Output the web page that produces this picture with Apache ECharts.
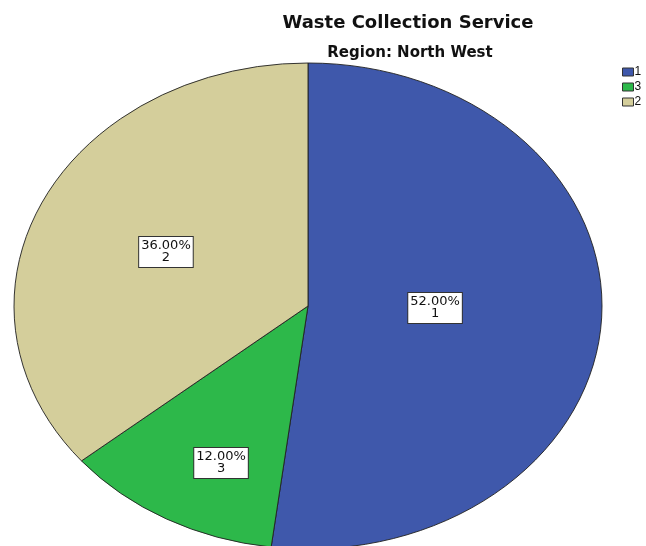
<!DOCTYPE html>
<html>
<head>
<meta charset="utf-8">
<script src="https://cdn.jsdelivr.net/npm/echarts@6/dist/echarts.min.js"></script>
<style>html,body{margin:0;padding:0;background:#fff}#c{width:646px;height:546px}</style>
</head>
<body>
<div id="c"></div>
<script>
var categories = ['1', '3', '2'];
var percentages = [52, 12, 36];
var sliceColors = ['#3f58ab', '#2db84a', '#d4ce9b'];
var titleText = 'Waste Collection Service';
var subtitleText = 'Region: North West';

// layout (pixels / fractions of the radii)
var CX = 308, CY = 306, RX = 294, RY = 243;
var labelRadiusX = [0.433, 0.614, 0.534];
var labelRadiusY = [0.13, 0.737, 0.522];

var total = percentages.reduce(function (a, b) { return a + b; }, 0);

function makeSeries(idx) {
  return {
    type: 'custom',
    name: categories[idx],
    coordinateSystem: 'none',
    itemStyle: { color: sliceColors[idx] },
    data: [percentages[idx]],
    renderItem: function (params, api) {
      var before = 0;
      for (var k = 0; k < idx; k++) before += percentages[k];
      var v = api.value(0);
      var start = -Math.PI / 2 + before / total * Math.PI * 2;
      var end = start + v / total * Math.PI * 2;
      var mid = (start + end) / 2;
      var lx = CX + Math.cos(mid) * RX * labelRadiusX[idx];
      var ly = CY + Math.sin(mid) * RY * labelRadiusY[idx];
      return {
        type: 'group',
        children: [
          {
            type: 'group',
            x: CX, y: CY,
            scaleY: RY / RX,
            children: [{
              type: 'sector',
              shape: { cx: 0, cy: 0, r0: 0, r: RX, startAngle: start, endAngle: end, clockwise: true },
              style: { fill: sliceColors[idx], stroke: '#222', lineWidth: 1, strokeNoScale: true }
            }]
          },
          {
            type: 'text',
            x: lx, y: ly,
            style: {
              text: (v / total * 100).toFixed(2) + '%\n' + categories[idx],
              fill: '#111',
              font: '13px "DejaVu Sans"',
              lineHeight: 12,
              align: 'center',
              verticalAlign: 'middle',
              backgroundColor: '#fff',
              borderColor: '#333',
              borderWidth: 1,
              padding: [3, 2, 3, 2]
            }
          }
        ]
      };
    }
  };
}

var chart = echarts.init(document.getElementById('c'), null, { renderer: 'canvas' });
chart.setOption({
  animation: false,
  backgroundColor: '#fff',
  title: [
    { text: titleText, left: 403, top: 9, textAlign: 'center',
      textStyle: { fontFamily: 'DejaVu Sans', fontWeight: 'bold', fontSize: 18, color: '#111' } },
    { text: subtitleText, left: 405, top: 41, textAlign: 'center',
      textStyle: { fontFamily: 'DejaVu Sans', fontWeight: 'bold', fontSize: 15, color: '#111' } }
  ],
  legend: {
    orient: 'vertical',
    left: 617, top: 61,
    icon: 'rect',
    itemWidth: 11, itemHeight: 8,
    itemGap: 3,
    itemStyle: { borderColor: '#333', borderWidth: 1 },
    textStyle: { fontFamily: 'Liberation Sans', fontSize: 12, lineHeight: 11, color: '#111', padding: [0, 0, 0, -4] },
    data: categories
  },
  series: categories.map(function (c, i) { return makeSeries(i); })
});
</script>
</body>
</html>
